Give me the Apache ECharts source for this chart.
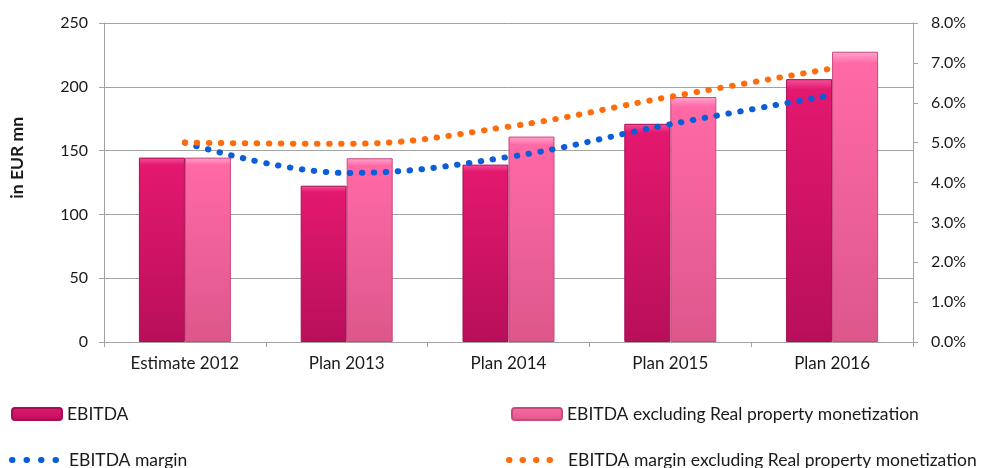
<!DOCTYPE html>
<html>
<head>
<meta charset="utf-8">
<script src="https://cdnjs.cloudflare.com/ajax/libs/echarts/6.0.0/echarts.min.js"></script>
<style>
  html, body { margin: 0; padding: 0; background: #fff; }
  #chart { width: 985px; height: 468px; }
</style>
</head>
<body>
<div id="chart"></div>
<script>
  // values
  var categories = ['Estimate 2012', 'Plan 2013', 'Plan 2014', 'Plan 2015', 'Plan 2016'];
  var ebitda = [144.5, 122.5, 139, 171, 206];
  var ebitdaExcl = [144.5, 144, 161, 192, 227.5];
  var margin = [0.050, 0.0424, 0.0464, 0.0546, 0.0619];
  var marginExcl = [0.050, 0.0497, 0.0540, 0.0615, 0.0686];
  var leftTicks = { min: 0, max: 250, step: 50 };
  var rightTicks = { min: 0, max: 0.08, step: 0.01 };

  var FONT = 'Lato, "Open Sans", sans-serif';
  var AXIS = '#a3a3a3';
  var TXT = '#1a1a1a';
  var BLUE = '#0b5ed7';
  var ORANGE = '#fe6c0c';

  function vgrad(top, mid, bot) {
    return new echarts.graphic.LinearGradient(0, 0, 0, 1, [
      { offset: 0, color: top },
      { offset: 0.04, color: mid },
      { offset: 1, color: bot }
    ]);
  }

  var dotLine = function (color, gap) {
    return { width: 6, color: color, type: [0.5, gap || 11.5], cap: 'round' };
  };

  function legendAt(name, left, top, w, h, extra) {
    var l = {
      data: [name],
      left: left,
      top: top,
      itemWidth: w,
      itemHeight: h,
      itemGap: 0,
      selectedMode: false,
      textStyle: { fontFamily: FONT, fontSize: 17.5, color: TXT }
    };
    return Object.assign(l, extra || {});
  }

  var chart = echarts.init(document.getElementById('chart'), null, { renderer: 'canvas' });

  chart.setOption({
    backgroundColor: '#fff',
    animation: false,
    textStyle: { fontFamily: FONT },
    grid: { left: 104, right: 72, top: 23, bottom: 126, containLabel: false },
    graphic: [{
      type: 'text',
      left: 8,
      top: 117,
      rotation: Math.PI / 2,
      style: { text: 'in EUR mn', font: 'bold 17.5px ' + FONT, fill: TXT }
    }],
    legend: [
      legendAt('EBITDA', 6, 400, 50, 12),
      legendAt('EBITDA excluding Real property monetization', 506, 400, 50, 12),
      legendAt('EBITDA margin', 4, 446, 52, 14, {
        itemStyle: { opacity: 0 },
        lineStyle: dotLine(BLUE, 14)
      }),
      legendAt('EBITDA margin excluding Real property monetization', 501, 446, 54, 14, {
        itemStyle: { opacity: 0 },
        lineStyle: dotLine(ORANGE, 13)
      })
    ],
    xAxis: {
      type: 'category',
      data: categories,
      axisLine: { lineStyle: { color: AXIS } },
      axisTick: { show: true, length: 5, lineStyle: { color: AXIS } },
      axisLabel: { color: TXT, fontFamily: FONT, fontSize: 17, margin: 13 }
    },
    yAxis: [
      {
        type: 'value',
        min: leftTicks.min, max: leftTicks.max, interval: leftTicks.step,
        axisLine: { show: true, lineStyle: { color: AXIS } },
        axisTick: { show: true, length: 5, lineStyle: { color: AXIS } },
        axisLabel: { color: TXT, fontFamily: FONT, fontSize: 16, margin: 16 },
        splitLine: { lineStyle: { color: AXIS } }
      },
      {
        type: 'value',
        min: rightTicks.min, max: rightTicks.max, interval: rightTicks.step,
        axisLine: { show: true, lineStyle: { color: AXIS } },
        axisTick: { show: true, length: 5, lineStyle: { color: AXIS } },
        axisLabel: {
          color: TXT, fontFamily: FONT, fontSize: 16, margin: 18,
          formatter: function (v) { return (v * 100).toFixed(1) + '%'; }
        },
        splitLine: { show: false }
      }
    ],
    series: [
      {
        name: 'EBITDA',
        type: 'bar',
        data: ebitda,
        barWidth: 46,
        barGap: '0%',
        itemStyle: {
          color: vgrad('#f4529a', '#e3186f', '#b80f5a'),
          borderColor: '#a80c52',
          borderWidth: 1
        }
      },
      {
        name: 'EBITDA excluding Real property monetization',
        type: 'bar',
        data: ebitdaExcl,
        barWidth: 46,
        barGap: '0%',
        itemStyle: {
          color: vgrad('#ffa6cf', '#ff69a6', '#dd578b'),
          borderColor: '#c64b7c',
          borderWidth: 1
        }
      },
      {
        name: 'EBITDA margin',
        type: 'line',
        yAxisIndex: 1,
        data: margin,
        smooth: 0.4,
        symbol: 'none',
        lineStyle: dotLine(BLUE),
        itemStyle: { color: BLUE },
        z: 5
      },
      {
        name: 'EBITDA margin excluding Real property monetization',
        type: 'line',
        yAxisIndex: 1,
        data: marginExcl,
        smooth: 0.4,
        symbol: 'none',
        lineStyle: dotLine(ORANGE),
        itemStyle: { color: ORANGE },
        z: 6
      }
    ]
  });
</script>
</body>
</html>
